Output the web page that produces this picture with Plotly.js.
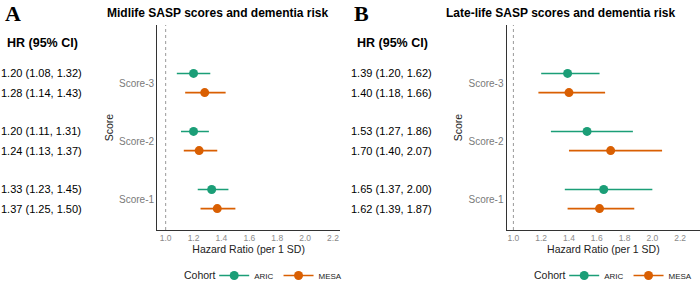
<!DOCTYPE html>
<html>
<head>
<meta charset="utf-8">
<script src="https://cdn.plot.ly/plotly-3.0.1.min.js"></script>
<style>
  html, body { margin: 0; padding: 0; background: #ffffff; }
  #chart { width: 700px; height: 284px; }
</style>
</head>
<body>
<div id="chart"></div>
<script>
// Hazard ratios (per 1 SD) of SASP scores for incident dementia, by cohort
var scores = ['Score-1', 'Score-2', 'Score-3'];
var cohorts = ['ARIC', 'MESA'];

// Midlife
var midAricHR = [1.33, 1.20, 1.20];
var midAricLo = [1.23, 1.11, 1.08];
var midAricHi = [1.45, 1.31, 1.32];
var midMesaHR = [1.37, 1.24, 1.28];
var midMesaLo = [1.25, 1.13, 1.14];
var midMesaHi = [1.50, 1.37, 1.43];

// Late life
var lateAricHR = [1.65, 1.53, 1.39];
var lateAricLo = [1.37, 1.27, 1.20];
var lateAricHi = [2.00, 1.86, 1.62];
var lateMesaHR = [1.62, 1.70, 1.40];
var lateMesaLo = [1.39, 1.40, 1.18];
var lateMesaHi = [1.87, 2.07, 1.66];

var xTicks = [1.0, 1.2, 1.4, 1.6, 1.8, 2.0, 2.2];

var COLORS = { ARIC: '#1B9E77', MESA: '#D95F02' };
var FONT = 'Liberation Sans, Arial, sans-serif';
var DODGE = 0.165;
var LEGEND_Y = 0.03;

function yPos(i, cohort) {
  return (i + 1) + (cohort === 'ARIC' ? DODGE : -DODGE);
}

function pointTrace(hr, lo, hi, cohort, xa, ya) {
  return {
    type: 'scatter', mode: 'markers',
    x: hr,
    y: hr.map(function (_, i) { return yPos(i, cohort); }),
    xaxis: xa, yaxis: ya,
    showlegend: false,
    marker: { color: COLORS[cohort], size: 9 },
    error_x: {
      type: 'data', symmetric: false,
      array: hr.map(function (v, i) { return +(hi[i] - v).toFixed(3); }),
      arrayminus: hr.map(function (v, i) { return +(v - lo[i]).toFixed(3); }),
      color: COLORS[cohort], thickness: 1.6, width: 0
    },
    hoverinfo: 'skip'
  };
}

function legendTrace(cohort, legendId, xa, ya) {
  return {
    type: 'scatter', mode: 'lines+markers',
    x: [null], y: [null], name: cohort,
    xaxis: xa, yaxis: ya,
    legend: legendId,
    line: { color: COLORS[cohort], width: 1.6 },
    marker: { color: COLORS[cohort], size: 9 }
  };
}

var traces = [
  pointTrace(midAricHR, midAricLo, midAricHi, 'ARIC', 'x', 'y'),
  pointTrace(midMesaHR, midMesaLo, midMesaHi, 'MESA', 'x', 'y'),
  pointTrace(lateAricHR, lateAricLo, lateAricHi, 'ARIC', 'x2', 'y2'),
  pointTrace(lateMesaHR, lateMesaLo, lateMesaHi, 'MESA', 'x2', 'y2'),
  legendTrace('ARIC', 'legend', 'x', 'y'),
  legendTrace('MESA', 'legend', 'x', 'y'),
  legendTrace('ARIC', 'legend2', 'x2', 'y2'),
  legendTrace('MESA', 'legend2', 'x2', 'y2')
];

// HR (95% CI) text table next to each panel
function ciText(hr, lo, hi, i) {
  return hr[i].toFixed(2) + ' (' + lo[i].toFixed(2) + ', ' + hi[i].toFixed(2) + ')';
}

var annotations = [];
function addTable(aric, mesa, xPaper, yref) {
  scores.forEach(function (_, i) {
    annotations.push({
      xref: 'paper', yref: yref, x: xPaper, y: yPos(i, 'ARIC'),
      xanchor: 'left', yanchor: 'middle', showarrow: false,
      text: ciText(aric[0], aric[1], aric[2], i),
      font: { family: FONT, size: 11, color: '#000000' }
    });
    annotations.push({
      xref: 'paper', yref: yref, x: xPaper, y: yPos(i, 'MESA'),
      xanchor: 'left', yanchor: 'middle', showarrow: false,
      text: ciText(mesa[0], mesa[1], mesa[2], i),
      font: { family: FONT, size: 11, color: '#000000' }
    });
  });
}
addTable([midAricHR, midAricLo, midAricHi], [midMesaHR, midMesaLo, midMesaHi], -0.001, 'y');
addTable([lateAricHR, lateAricLo, lateAricHi], [lateMesaHR, lateMesaLo, lateMesaHi], 0.4985, 'y2');

// panel letters, titles and table headers
[
  { x: 0.004, text: 'A' },
  { x: 0.503, text: 'B' }
].forEach(function (p) {
  annotations.push({
    xref: 'paper', yref: 'paper', x: p.x, y: 0.952, xanchor: 'left', yanchor: 'middle',
    showarrow: false, text: '<b>' + p.text + '</b>',
    font: { family: 'Liberation Serif, Times New Roman, serif', size: 22, color: '#000000' }
  });
});
[
  { x: 0.312, text: 'Midlife SASP scores and dementia risk' },
  { x: 0.802, text: 'Late-life SASP scores and dementia risk' }
].forEach(function (t) {
  annotations.push({
    xref: 'paper', yref: 'paper', x: t.x, y: 0.954, xanchor: 'center', yanchor: 'middle',
    showarrow: false, text: '<b>' + t.text + '</b>',
    font: { family: FONT, size: 12, color: '#000000' }
  });
});
[0.007, 0.507].forEach(function (x) {
  annotations.push({
    xref: 'paper', yref: 'paper', x: x, y: 0.849, xanchor: 'left', yanchor: 'middle',
    showarrow: false, text: '<b>HR (95% CI)</b>',
    font: { family: FONT, size: 12.5, color: '#000000' }
  });
});
// legend headings
[0.311, 0.811].forEach(function (x) {
  annotations.push({
    xref: 'paper', yref: 'paper', x: x, y: LEGEND_Y, xanchor: 'right', yanchor: 'middle',
    showarrow: false, text: 'Cohort',
    font: { family: FONT, size: 10.5, color: '#222222' }
  });
});

function xAxis(domain, range, anchor) {
  return {
    domain: domain, range: range, anchor: anchor,
    tickmode: 'array', tickvals: xTicks,
    ticktext: xTicks.map(function (v) { return v.toFixed(1); }),
    showgrid: false, zeroline: false, ticks: '',
    showline: true, linecolor: '#333333', linewidth: 1.2,
    tickfont: { family: FONT, size: 8.5, color: '#8a8a8a' },
    title: { text: 'Hazard Ratio (per 1 SD)', standoff: 2,
             font: { family: FONT, size: 10.5, color: '#222222' } },
    fixedrange: true
  };
}
function yAxis(anchor) {
  return {
    domain: [0.1901, 0.9120], range: [0.466, 4.0], anchor: anchor,
    tickmode: 'array', tickvals: scores.map(function (_, i) { return i + 1; }),
    ticktext: scores,
    showgrid: false, zeroline: false, ticks: '',
    showline: true, linecolor: '#333333', linewidth: 1.2,
    tickfont: { family: FONT, size: 10, color: '#7a7a7a' },
    title: { text: 'Score', standoff: 3,
             font: { family: FONT, size: 10.5, color: '#222222' } },
    fixedrange: true
  };
}

function refLine(xref, yref) {
  return {
    type: 'line', xref: xref, yref: yref + ' domain',
    x0: 1, x1: 1, y0: 0, y1: 1,
    line: { color: '#9a9a9a', width: 1, dash: '3px,3px' }
  };
}

// horizontal legend under each panel (margins are fixed, so it does not push the plot)
function legendBox(x) {
  return {
    orientation: 'h', xref: 'paper', yref: 'paper',
    x: x, y: LEGEND_Y, xanchor: 'left', yanchor: 'middle',
    font: { family: FONT, size: 8, color: '#222222' },
    itemwidth: 30, bgcolor: 'rgba(0,0,0,0)', tracegroupgap: 0
  };
}

var layout = {
  width: 700, height: 284,
  margin: { l: 0, r: 0, t: 0, b: 0, autoexpand: false },
  paper_bgcolor: '#ffffff', plot_bgcolor: '#ffffff',
  font: { family: FONT },
  xaxis: xAxis([0.2247, 0.4857], [0.94, 2.25], 'y'),
  yaxis: yAxis('x'),
  xaxis2: xAxis([0.7239, 1.0], [0.952, 2.343], 'y2'),
  yaxis2: yAxis('x2'),
  shapes: [refLine('x', 'y'), refLine('x2', 'y2')],
  annotations: annotations,
  showlegend: true,
  legend: legendBox(0.306),
  legend2: legendBox(0.806)
};

Plotly.newPlot('chart', traces, layout, { displayModeBar: false, staticPlot: true });
</script>
</body>
</html>
